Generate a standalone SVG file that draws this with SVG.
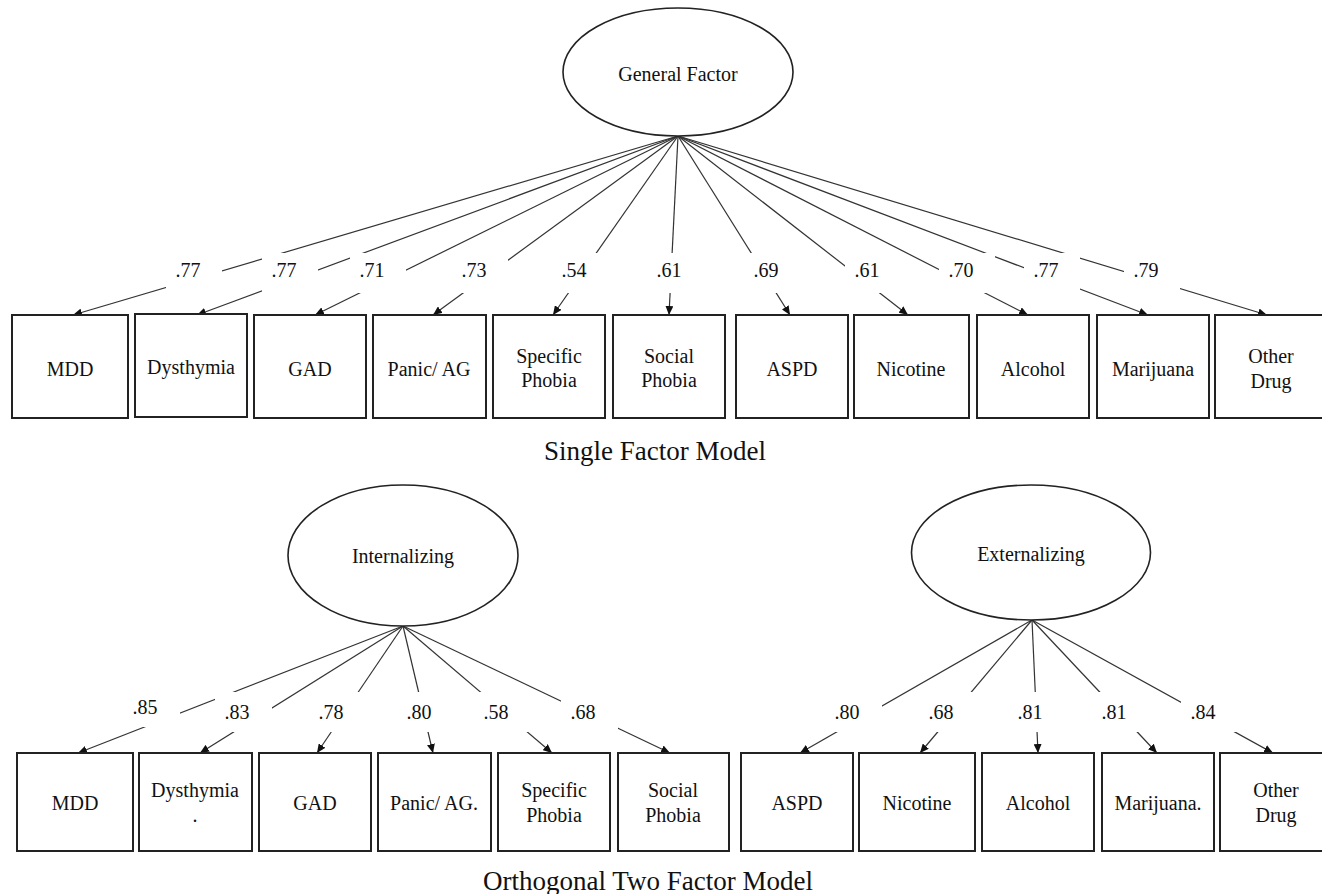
<svg xmlns="http://www.w3.org/2000/svg" width="1322" height="894" viewBox="0 0 1322 894">
<defs>
<marker id="arr" markerUnits="userSpaceOnUse" markerWidth="9" markerHeight="8" refX="9" refY="4" orient="auto">
<path d="M0,0 L9,4 L0,8 z" fill="#111"/>
</marker>
<style>
text{font-family:"Liberation Serif","Times New Roman",serif;fill:#111;text-anchor:middle}
.nt{font-size:20px}
.lb{font-size:20px}
.tt{font-size:27px}
.box{fill:#fff;stroke:#222;stroke-width:2}
.ell{fill:#fff;stroke:#222;stroke-width:1.6}
.con line{stroke:#333;stroke-width:1.2;marker-end:url(#arr)}
.lbg{fill:#fff;stroke:none}
</style>
</defs>
<rect width="1322" height="894" fill="#fff"/>

<!-- connectors -->
<g id="connectors" class="con">
<line x1="678" y1="136" x2="73" y2="315"/>
<line x1="678" y1="136" x2="197" y2="315"/>
<line x1="678" y1="136" x2="315" y2="315"/>
<line x1="678" y1="136" x2="433" y2="315"/>
<line x1="678" y1="136" x2="553" y2="315"/>
<line x1="678" y1="136" x2="669" y2="315"/>
<line x1="678" y1="136" x2="790" y2="315"/>
<line x1="678" y1="136" x2="908" y2="315"/>
<line x1="678" y1="136" x2="1028" y2="315"/>
<line x1="678" y1="136" x2="1148" y2="315"/>
<line x1="678" y1="136" x2="1267" y2="315"/>
<line x1="403" y1="626" x2="78" y2="753"/>
<line x1="403" y1="626" x2="200" y2="753"/>
<line x1="403" y1="626" x2="317" y2="753"/>
<line x1="403" y1="626" x2="433" y2="753"/>
<line x1="403" y1="626" x2="552" y2="753"/>
<line x1="403" y1="626" x2="670" y2="753"/>
<line x1="1032" y1="620" x2="800" y2="753"/>
<line x1="1032" y1="620" x2="920" y2="753"/>
<line x1="1032" y1="620" x2="1038" y2="753"/>
<line x1="1032" y1="620" x2="1157" y2="753"/>
<line x1="1032" y1="620" x2="1273" y2="753"/>
</g>

<!-- loading labels -->
<g id="labels" class="lb">
<rect class="lbg" x="166" y="253" width="56" height="40"/><text x="188" y="277">.77</text>
<rect class="lbg" x="262" y="253" width="56" height="40"/><text x="284" y="277">.77</text>
<rect class="lbg" x="350" y="253" width="56" height="40"/><text x="372" y="277">.71</text>
<rect class="lbg" x="452" y="253" width="56" height="40"/><text x="474" y="277">.73</text>
<rect class="lbg" x="552" y="253" width="56" height="40"/><text x="574" y="277">.54</text>
<rect class="lbg" x="647" y="253" width="56" height="40"/><text x="669" y="277">.61</text>
<rect class="lbg" x="744" y="253" width="56" height="40"/><text x="766" y="277">.69</text>
<rect class="lbg" x="845" y="253" width="56" height="40"/><text x="867" y="277">.61</text>
<rect class="lbg" x="939" y="253" width="56" height="40"/><text x="961" y="277">.70</text>
<rect class="lbg" x="1024" y="253" width="56" height="40"/><text x="1046" y="277">.77</text>
<rect class="lbg" x="1124" y="253" width="56" height="40"/><text x="1146" y="277">.79</text>

<rect class="lbg" x="123" y="687" width="57" height="40"/><text x="145" y="714">.85</text>
<rect class="lbg" x="215" y="692" width="57" height="40"/><text x="237" y="719">.83</text>
<rect class="lbg" x="309" y="692" width="57" height="40"/><text x="331" y="719">.78</text>
<rect class="lbg" x="397" y="692" width="57" height="40"/><text x="419" y="719">.80</text>
<rect class="lbg" x="474" y="692" width="57" height="40"/><text x="496" y="719">.58</text>
<rect class="lbg" x="561" y="692" width="57" height="40"/><text x="583" y="719">.68</text>
<rect class="lbg" x="825" y="692" width="57" height="40"/><text x="847" y="719">.80</text>
<rect class="lbg" x="919" y="692" width="57" height="40"/><text x="941" y="719">.68</text>
<rect class="lbg" x="1008" y="692" width="57" height="40"/><text x="1030" y="719">.81</text>
<rect class="lbg" x="1092" y="692" width="57" height="40"/><text x="1114" y="719">.81</text>
<rect class="lbg" x="1181" y="692" width="57" height="40"/><text x="1203" y="719">.84</text>
</g>

<!-- top model -->
<g id="general"><ellipse class="ell" cx="678" cy="72" rx="115" ry="64"/><text class="nt" x="678" y="81">General Factor</text></g>
<g id="t-mdd"><rect class="box" x="12" y="315" width="116" height="103"/><text class="nt" x="70" y="376">MDD</text></g>
<g id="t-dys"><rect class="box" x="135" y="314" width="112" height="103"/><text class="nt" x="191" y="374">Dysthymia</text></g>
<g id="t-gad"><rect class="box" x="254" y="315" width="112" height="103"/><text class="nt" x="310" y="376">GAD</text></g>
<g id="t-pan"><rect class="box" x="373" y="315" width="113" height="103"/><text class="nt" x="429" y="376">Panic/ AG</text></g>
<g id="t-spec"><rect class="box" x="493" y="315" width="112" height="103"/><text class="nt" x="549" y="363">Specific</text><text class="nt" x="549" y="387">Phobia</text></g>
<g id="t-soc"><rect class="box" x="613" y="315" width="112" height="103"/><text class="nt" x="669" y="363">Social</text><text class="nt" x="669" y="387">Phobia</text></g>
<g id="t-aspd"><rect class="box" x="736" y="315" width="112" height="103"/><text class="nt" x="792" y="376">ASPD</text></g>
<g id="t-nic"><rect class="box" x="854" y="315" width="115" height="103"/><text class="nt" x="911" y="376">Nicotine</text></g>
<g id="t-alc"><rect class="box" x="977" y="315" width="112" height="103"/><text class="nt" x="1033" y="376">Alcohol</text></g>
<g id="t-mar"><rect class="box" x="1097" y="315" width="112" height="103"/><text class="nt" x="1153" y="376">Marijuana</text></g>
<g id="t-oth"><rect class="box" x="1215" y="315" width="112" height="103"/><text class="nt" x="1271" y="363">Other</text><text class="nt" x="1271" y="388">Drug</text></g>
<text class="tt" x="655" y="460">Single Factor Model</text>

<!-- bottom model -->
<g id="internalizing"><ellipse class="ell" cx="403" cy="555.5" rx="115" ry="70.5"/><text class="nt" x="403" y="563">Internalizing</text></g>
<g id="externalizing"><ellipse class="ell" cx="1031" cy="552.5" rx="119.5" ry="67.5"/><text class="nt" x="1031" y="561">Externalizing</text></g>
<g id="b-mdd"><rect class="box" x="17" y="753" width="116" height="98"/><text class="nt" x="75" y="810">MDD</text></g>
<g id="b-dys"><rect class="box" x="139" y="753" width="113" height="98"/><text class="nt" x="195" y="797">Dysthymia</text><text class="nt" x="195" y="822">.</text></g>
<g id="b-gad"><rect class="box" x="259" y="753" width="112" height="98"/><text class="nt" x="315" y="810">GAD</text></g>
<g id="b-pan"><rect class="box" x="378" y="753" width="113" height="98"/><text class="nt" x="434" y="810">Panic/ AG.</text></g>
<g id="b-spec"><rect class="box" x="498" y="753" width="112" height="98"/><text class="nt" x="554" y="797">Specific</text><text class="nt" x="554" y="822">Phobia</text></g>
<g id="b-soc"><rect class="box" x="618" y="753" width="111" height="98"/><text class="nt" x="673" y="797">Social</text><text class="nt" x="673" y="822">Phobia</text></g>
<g id="b-aspd"><rect class="box" x="741" y="753" width="112" height="98"/><text class="nt" x="797" y="810">ASPD</text></g>
<g id="b-nic"><rect class="box" x="859" y="753" width="116" height="98"/><text class="nt" x="917" y="810">Nicotine</text></g>
<g id="b-alc"><rect class="box" x="982" y="753" width="112" height="98"/><text class="nt" x="1038" y="810">Alcohol</text></g>
<g id="b-mar"><rect class="box" x="1102" y="753" width="112" height="98"/><text class="nt" x="1158" y="810">Marijuana.</text></g>
<g id="b-oth"><rect class="box" x="1220" y="753" width="112" height="98"/><text class="nt" x="1276" y="797">Other</text><text class="nt" x="1276" y="822">Drug</text></g>
<text class="tt" x="648" y="890">Orthogonal Two Factor Model</text>
</svg>
